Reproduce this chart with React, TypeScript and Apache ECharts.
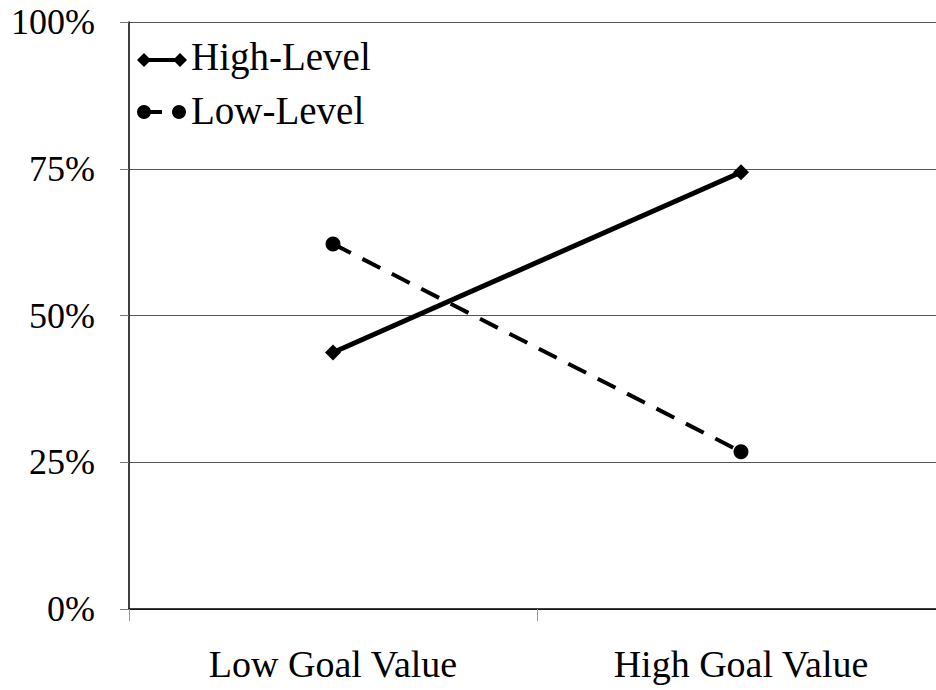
import React, { useEffect, useRef } from "react";
import * as echarts from "echarts";

const categories = ["Low Goal Value", "High Goal Value"];
const highLevel = [0.437, 0.744];
const lowLevel = [0.622, 0.268];
const yTicks = [0, 0.25, 0.5, 0.75, 1];
const seriesNames = ["High-Level", "Low-Level"];

const FONT = "Times New Roman, Liberation Serif, serif";

export default function App() {
  const ref = useRef<HTMLDivElement>(null);
  useEffect(() => {
    if (!ref.current) return;
    const chart = echarts.init(ref.current, undefined, { renderer: "svg" });
    const y1 = 60;
    const y2 = 112;
    chart.setOption({
      animation: false,
      backgroundColor: "#ffffff",
      grid: { left: 129, top: 22, bottom: 81, right: 0, containLabel: false },
      legend: { show: false },
      graphic: [
        { type: "line", shape: { x1: 144, y1: y1, x2: 180, y2: y1 }, style: { stroke: "#000", lineWidth: 4 } },
        { type: "polygon", shape: { points: [[137, y1], [144, y1 - 7], [151, y1], [144, y1 + 7]] }, style: { fill: "#000" } },
        { type: "polygon", shape: { points: [[173, y1], [180, y1 - 7], [187, y1], [180, y1 + 7]] }, style: { fill: "#000" } },
        { type: "text", left: 191, top: y1 - 23, style: { text: seriesNames[0], fontFamily: FONT, fontSize: 39, fill: "#000" } },
        { type: "line", shape: { x1: 144, y1: y2, x2: 162, y2: y2 }, style: { stroke: "#000", lineWidth: 4 } },
        { type: "circle", shape: { cx: 144, cy: y2, r: 7 }, style: { fill: "#000" } },
        { type: "circle", shape: { cx: 179, cy: y2, r: 7 }, style: { fill: "#000" } },
        { type: "text", left: 191, top: y2 - 21, style: { text: seriesNames[1], fontFamily: FONT, fontSize: 39, fill: "#000" } },
      ],
      xAxis: {
        type: "category",
        data: categories,
        boundaryGap: true,
        axisLine: { show: true, lineStyle: { color: "#000", width: 1.5 } },
        axisTick: { show: true, length: 12, lineStyle: { color: "#999", width: 1 } },
        axisLabel: { fontFamily: FONT, fontSize: 38, color: "#000", margin: 36 },
        splitLine: { show: false },
      },
      yAxis: {
        type: "value",
        min: yTicks[0],
        max: yTicks[yTicks.length - 1],
        interval: 0.25,
        axisLine: { show: true, lineStyle: { color: "#000", width: 1.5 } },
        axisTick: { show: true, length: 9, lineStyle: { color: "#777", width: 1 } },
        axisLabel: {
          fontFamily: FONT,
          fontSize: 36,
          color: "#000",
          margin: 34,
          formatter: (v: number) => Math.round(v * 100) + "%",
        },
        splitLine: { show: true, lineStyle: { color: "#555", width: 1 } },
      },
      series: [
        {
          name: seriesNames[0],
          type: "line",
          data: highLevel,
          symbol: "diamond",
          symbolSize: [16, 16],
          lineStyle: { color: "#000", width: 5, type: "solid" },
          itemStyle: { color: "#000" },
        },
        {
          name: seriesNames[1],
          type: "line",
          data: lowLevel,
          symbol: "circle",
          symbolSize: 15,
          lineStyle: { color: "#000", width: 4, type: [20, 13] },
          itemStyle: { color: "#000" },
        },
      ],
    });
    return () => chart.dispose();
  }, []);
  return (
    <div
      ref={ref}
      style={{ position: "fixed", left: 0, top: 0, width: 945, height: 690, background: "#fff" }}
    />
  );
}
